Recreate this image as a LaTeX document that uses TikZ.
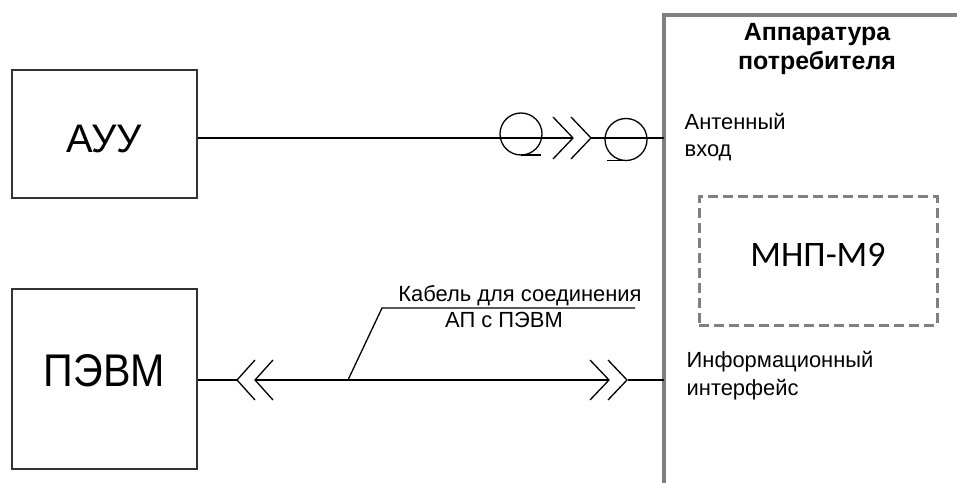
\documentclass[tikz,border=0pt]{standalone}
\usepackage{fontspec}
\setmainfont{Liberation Sans}
\newfontfamily\calibfont{Carlito}
\begin{document}
\begin{tikzpicture}[x=1bp, y=-1bp, line width=1.3bp,
	blok/.style={draw=black!80, inner sep=0pt, minimum width=185bp},
	podp/.style={anchor=base west, align=left, inner sep=0pt, font=\fontsize{22}{28}\selectfont},
	kab/.style={anchor=base, inner sep=0pt, font=\fontsize{22}{26}\selectfont},
	apline/.style={draw=black!50, line width=4bp}]
		\useasboundingbox (0,0) rectangle (957,483);
		\node[blok, minimum height=128bp, text height=38bp, font=\fontsize{40}{48}\selectfont] (auu) at (104.5,134) {АУУ};
		\node[blok, minimum height=180bp, text depth=18bp, font=\fontsize{46}{54}\selectfont] (pevm) at (104.5,379) {\scalebox{0.9}[1]{ПЭВМ}};
		\draw[apline] (957,15.5) -| (664,483);
		\coordinate (antvh) at (664,138);
		\coordinate (infvh) at (664,380);
		\node[anchor=base, align=center, font=\bfseries\fontsize{25}{30}\selectfont] (apt) at (817,70) {Аппаратура\\потребителя};
		\node[podp] (antp) at (684,157) {Антенный\\вход};
		\node[podp] (infp) at (686,395) {Информационный\\интерфейс};
		\node[draw=black!50, line width=3bp, dash pattern=on 10bp off 5bp, minimum width=238bp, minimum height=128bp, text depth=12bp, font=\calibfont\fontsize{36}{42}\selectfont] (mnp) at (818,261) {МНП-М9};
		\coordinate (s1) at (573,138);
		\coordinate (s2) at (591,138);
		\draw (auu.east |- antvh) -- (s1);
		\draw (s2) -- (antvh);
		\foreach \x in {553,571}
			\draw (\x,117) -- ++(20,21) -- ++(-20,21);
		\draw (521,134) circle[radius=21];
		\draw (521,155) -- (541,155);
		\draw (626,139.5) circle[radius=21];
		\draw (607,160.5) -- (627,160.5);
		\coordinate (l1) at (237,380);
		\coordinate (l2) at (255,380);
		\coordinate (r1) at (608,380);
		\coordinate (r2) at (628,380);
		\draw (pevm.east |- infvh) -- (l1);
		\draw (l2) -- (r1);
		\draw (r2) -- (infvh);
		\foreach \x in {237,255}
			\draw (\x+18,360) -- ++(-18,20) -- ++(18,20);
		\foreach \x in {590,608}
			\draw (\x,360) -- ++(19,20) -- ++(-19,20);
		\coordinate (kv) at (348,380);
		\draw (kv) -- (382,308) -- (635,308);
		\node[kab] (kab1) at (520,302) {Кабель для соединения};
		\node[kab] (kab2) at (504,328) {АП с ПЭВМ};
\end{tikzpicture}
\end{document}
